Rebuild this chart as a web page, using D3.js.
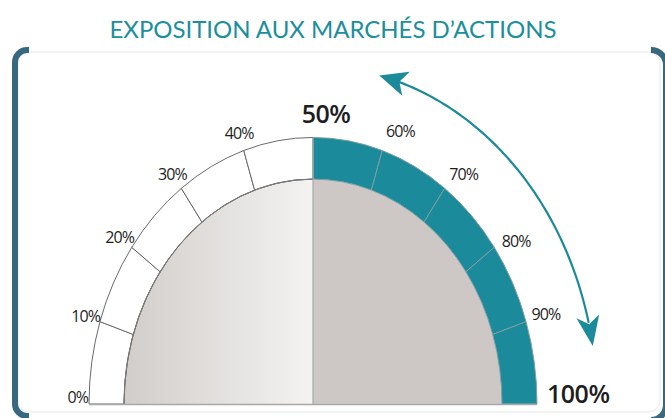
<!DOCTYPE html>
<html><head><meta charset="utf-8">
<script src="https://cdn.jsdelivr.net/npm/d3@7/dist/d3.min.js"></script>
<style>html,body{margin:0;padding:0;background:#fff;}svg{display:block;}</style>
</head><body>
<svg id="c" width="665" height="418"></svg>
<script>
// ---- data ----
const title = "EXPOSITION AUX MARCHÉS D\u2019ACTIONS";
const ticks = [0, 10, 20, 30, 40, 50, 60, 70, 80, 90, 100];
const tickLabels = ["0%", "10%", "20%", "30%", "40%", "50%", "60%", "70%", "80%", "90%", "100%"];
const segmentStarts = [0, 10, 20, 30, 40, 50, 60, 70, 80, 90];
const equityRange = [50, 100];      // highlighted range
const arrowRange = [57.5, 94.5];    // arrow span on the same scale

// ---- layout ----
const svg = d3.select("#c");
const cx = 313, cy = 404, sy = 1.19;
const R = 224, r0 = 189, rArrow = 284;
const teal = "#1b8a9a", frame = "#386780";
const labelNudge = {60: 1.6, 70: 1.1, 80: 1.1};   // angular placement tweaks (scale units)

const ang = d3.scaleLinear().domain([0, 100]).range([-Math.PI / 2, Math.PI / 2]);
const pt = (v, r) => [cx + r * Math.sin(ang(v)), cy - r * Math.cos(ang(v)) * sy];

const defs = svg.append("defs");
const lg = defs.append("linearGradient").attr("id", "lg").attr("x1", 0).attr("x2", 1).attr("y1", 0).attr("y2", 0);
lg.append("stop").attr("offset", 0).attr("stop-color", "#d1cdca");
lg.append("stop").attr("offset", 1).attr("stop-color", "#f4f3f2");

// frame
svg.append("rect").attr("x", 18).attr("y", 52).attr("width", 642).attr("height", 360)
  .attr("rx", 12).attr("fill", "#fff").attr("stroke", "#f0f0f0").attr("stroke-width", 1.5);
svg.append("path").attr("d", "M29,50 H27 A12,12 0 0 0 15,62 V404 A12,12 0 0 0 27,416 H29")
  .attr("fill", "none").attr("stroke", frame).attr("stroke-width", 6);
svg.append("path").attr("d", "M651,50 A15,15 0 0 1 666,65 V405 A15,15 0 0 1 651,420")
  .attr("fill", "none").attr("stroke", frame).attr("stroke-width", 6);

// title
svg.append("text").attr("x", 333).attr("y", 38).attr("text-anchor", "middle")
  .attr("font-family", "Lato, 'Open Sans', sans-serif").attr("font-size", 24)
  .attr("textLength", 447).attr("lengthAdjust", "spacing")
  .attr("fill", "#1b8f9c").text(title);

const g = svg.append("g").attr("transform", `translate(${cx},${cy}) scale(1,${sy})`);

// inner half discs
const inner = d3.arc().innerRadius(0).outerRadius(r0);
g.append("path").attr("d", inner({startAngle: ang(0), endAngle: ang(50)})).attr("fill", "url(#lg)");
g.append("path").attr("d", inner({startAngle: ang(50), endAngle: ang(100)})).attr("fill", "#cdc8c5");

// ring segments
const seg = d3.arc().innerRadius(r0).outerRadius(R);
g.selectAll("path.seg").data(segmentStarts).join("path").attr("class", "seg")
  .attr("d", d => seg({startAngle: ang(d), endAngle: ang(d + 10)}))
  .attr("fill", d => d >= equityRange[0] && d < equityRange[1] ? teal : "#fff")
  .attr("stroke", d => d >= equityRange[0] ? "#7f9ea4" : "#6a6a6a")
  .attr("stroke-width", 1).attr("vector-effect", "non-scaling-stroke");

// inner outline (left)
g.append("path").attr("d", d3.arc().innerRadius(r0).outerRadius(r0)({startAngle: ang(0), endAngle: ang(50)}))
  .attr("fill", "none").attr("stroke", "#777").attr("stroke-width", 1).attr("vector-effect", "non-scaling-stroke");

// centre divider and baseline
const topPt = pt(50, R);
svg.append("line").attr("x1", cx).attr("x2", cx).attr("y1", topPt[1]).attr("y2", cy)
  .attr("stroke", "#a9a9a9").attr("stroke-width", 1.2);
svg.append("line").attr("x1", pt(0, R)[0]).attr("x2", pt(100, R)[0]).attr("y1", cy + 0.5).attr("y2", cy + 0.5)
  .attr("stroke", "#a8a8a8").attr("stroke-width", 1.5);

// labels
const labG = svg.append("g").attr("fill", "#1e1e1e").attr("font-family", "'Open Sans', sans-serif");
ticks.forEach((v, i) => {
  const t = labG.append("text").text(tickLabels[i]);
  if (v === 50) {
    t.attr("x", cx + 13).attr("y", topPt[1] - 14).attr("text-anchor", "middle")
      .attr("font-size", 25).attr("font-weight", 600).attr("letter-spacing", -0.5);
  } else if (v === 100) {
    const p = pt(100, R);
    t.attr("x", p[0] + 10).attr("y", cy - 1).attr("text-anchor", "start")
      .attr("font-size", 25).attr("font-weight", 600).attr("letter-spacing", -0.5);
  } else if (v === 0) {
    const p = pt(0, R);
    t.attr("x", p[0] - 1).attr("y", cy - 1).attr("text-anchor", "end")
      .attr("font-size", 16).attr("letter-spacing", -0.9);
  } else {
    const p = pt(v + (labelNudge[v] || 0), v > 50 ? 245 : 239);
    t.attr("x", p[0]).attr("y", p[1]).attr("dy", "0.36em").attr("text-anchor", "middle")
      .attr("font-size", 16).attr("letter-spacing", -0.9);
  }
});

// arrow
const samples = d3.range(0, 101).map(k => arrowRange[0] + (arrowRange[1] - arrowRange[0]) * k / 100);
const arcPts = samples.map(v => pt(v, rArrow));
function head(tip, from, len, wid, notch) {
  const dx = tip[0] - from[0], dy = tip[1] - from[1], L = Math.hypot(dx, dy);
  const ux = dx / L, uy = dy / L, nx = -uy, ny = ux;
  const bx = tip[0] - ux * len, by = tip[1] - uy * len;
  return [tip, [bx + nx * wid / 2, by + ny * wid / 2],
          [tip[0] - ux * (len - notch), tip[1] - uy * (len - notch)],
          [bx - nx * wid / 2, by - ny * wid / 2]];
}
svg.append("path").attr("d", d3.line()(arcPts.slice(6, arcPts.length - 6)))
  .attr("fill", "none").attr("stroke", teal).attr("stroke-width", 2.2);
const h1 = head(arcPts[0], arcPts[4], 28, 25, 7);
const h2 = head(arcPts[arcPts.length - 1], arcPts[arcPts.length - 5], 30, 23, 8);
[h1, h2].forEach(h => svg.append("path").attr("d", d3.line()(h) + "Z").attr("fill", teal));
</script>
</body></html>
